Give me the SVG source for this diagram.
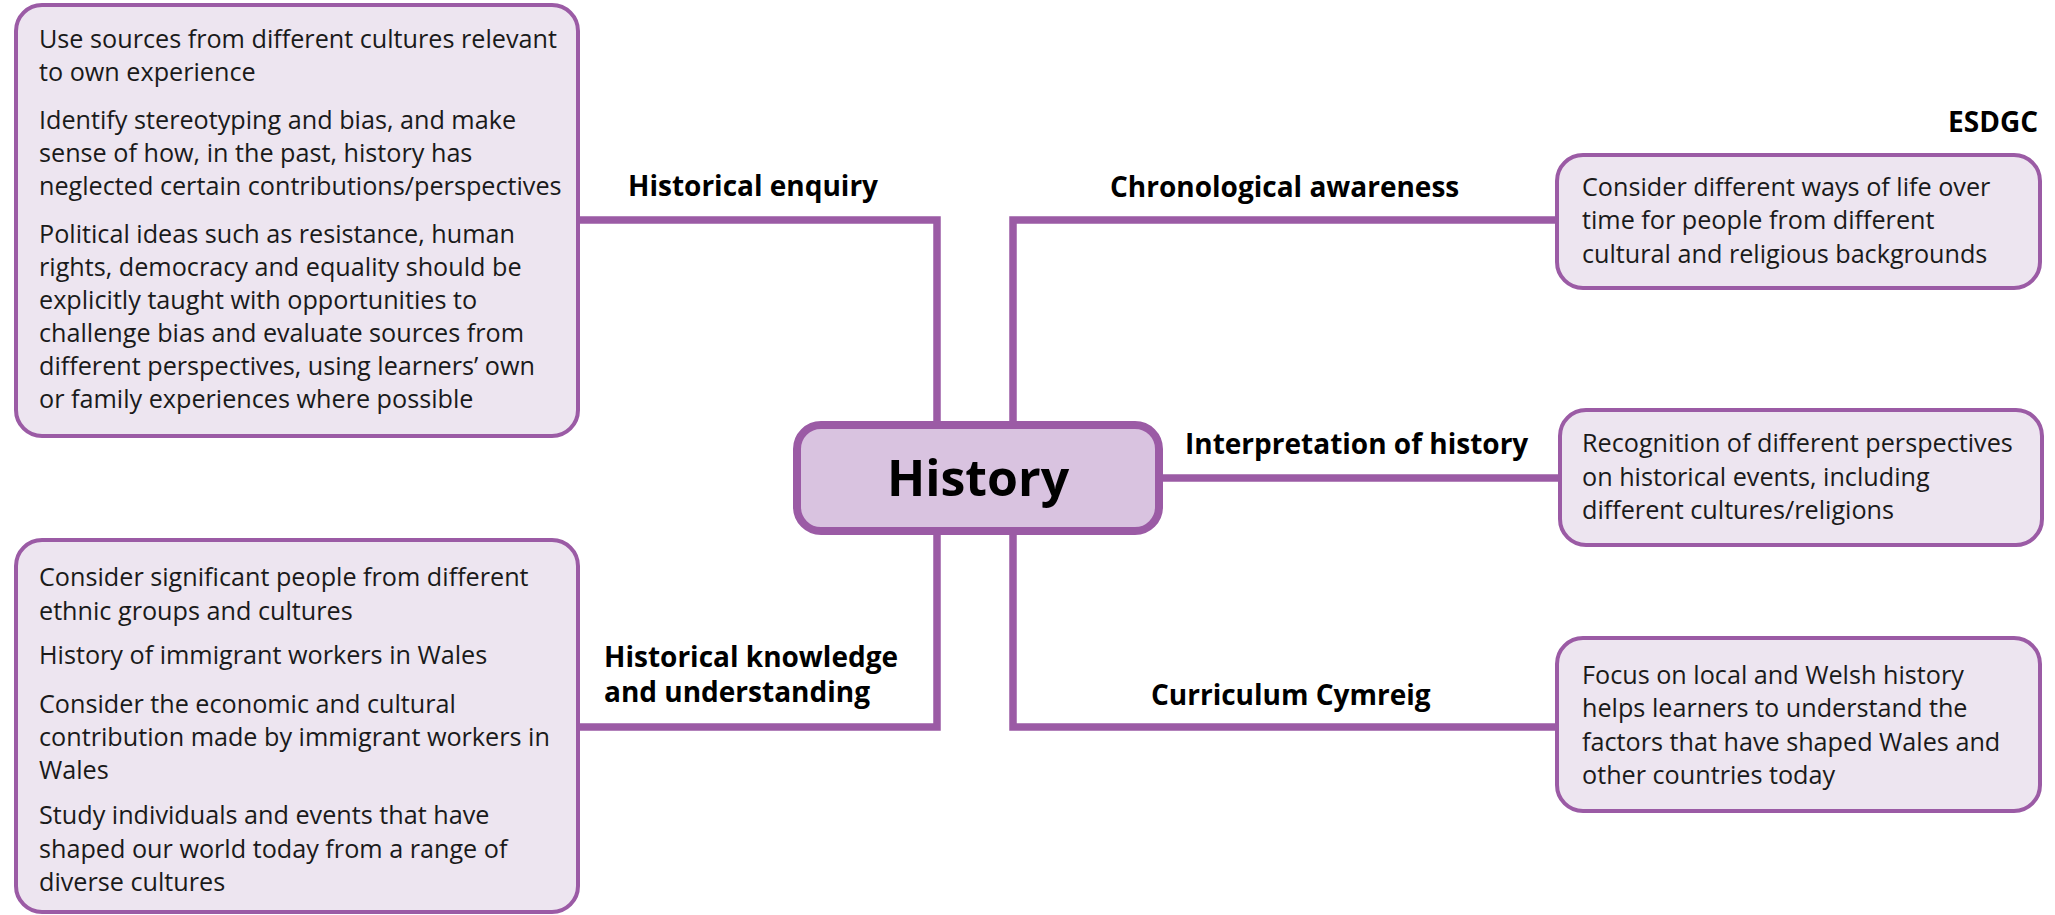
<svg xmlns="http://www.w3.org/2000/svg" width="2055" height="915" viewBox="0 0 2055 915">
  <style>
    .conn { fill: none; stroke: #9b5ba5; stroke-width: 7.5; stroke-linejoin: miter; }
    .box { fill: #ede5f0; stroke: #9b5ba5; stroke-width: 4; }
    .hub { fill: #d9c3e0; stroke: #9b5ba5; stroke-width: 8; }
    .body { font-family: "Open Sans", "Noto Sans", sans-serif; font-size: 25.2px; fill: #1a1a1a; }
    .head { font-family: "Open Sans", "Noto Sans", sans-serif; font-size: 28px; font-weight: bold; fill: #000; }
    .title { font-family: "Open Sans", "Noto Sans", sans-serif; font-size: 50px; font-weight: bold; fill: #000; }
  </style>

  <!-- connectors from the hub to each theme box -->
  <g id="connectors">
    <path class="conn" d="M 578 220 H 937 V 429"/>
    <path class="conn" d="M 1013 429 V 220 H 1557"/>
    <path class="conn" d="M 1159 478 H 1560"/>
    <path class="conn" d="M 937 527 V 727 H 578"/>
    <path class="conn" d="M 1013 527 V 727 H 1557"/>
  </g>

  <!-- branch labels -->
  <g id="labels">
    <text class="head" x="628" y="196">Historical enquiry</text>
    <text class="head" x="1110" y="197">Chronological awareness</text>
    <text class="head" x="2038" y="132" text-anchor="end">ESDGC</text>
    <text class="head" x="1185" y="454">Interpretation of history</text>
    <text class="head" x="604" y="667">Historical knowledge</text>
    <text class="head" x="604" y="702">and understanding</text>
    <text class="head" x="1151" y="705">Curriculum Cymreig</text>
  </g>

  <g id="hub">
    <rect class="hub" x="797" y="425" width="362" height="106" rx="24"/>
    <text class="title" x="978" y="496" text-anchor="middle">History</text>
  </g>

  <g id="enquiry-box">
    <rect class="box" x="16" y="5" width="562" height="431" rx="26"/>
    <text class="body" x="39" y="48">Use sources from different cultures relevant</text>
    <text class="body" x="39" y="81">to own experience</text>
    <text class="body" x="39" y="129">Identify stereotyping and bias, and make</text>
    <text class="body" x="39" y="162">sense of how, in the past, history has</text>
    <text class="body" x="39" y="195">neglected certain contributions/perspectives</text>
    <text class="body" x="39" y="243">Political ideas such as resistance, human</text>
    <text class="body" x="39" y="276">rights, democracy and equality should be</text>
    <text class="body" x="39" y="309">explicitly taught with opportunities to</text>
    <text class="body" x="39" y="342">challenge bias and evaluate sources from</text>
    <text class="body" x="39" y="375">different perspectives, using learners’ own</text>
    <text class="body" x="39" y="408">or family experiences where possible</text>
  </g>

  <g id="knowledge-box">
    <rect class="box" x="16" y="540" width="562" height="372" rx="26"/>
    <text class="body" x="39" y="586">Consider significant people from different</text>
    <text class="body" x="39" y="620">ethnic groups and cultures</text>
    <text class="body" x="39" y="664">History of immigrant workers in Wales</text>
    <text class="body" x="39" y="713">Consider the economic and cultural</text>
    <text class="body" x="39" y="746">contribution made by immigrant workers in</text>
    <text class="body" x="39" y="779">Wales</text>
    <text class="body" x="39" y="824">Study individuals and events that have</text>
    <text class="body" x="39" y="858">shaped our world today from a range of</text>
    <text class="body" x="39" y="891">diverse cultures</text>
  </g>

  <g id="chronology-box">
    <rect class="box" x="1557" y="155" width="483" height="133" rx="26"/>
    <text class="body" x="1582" y="196">Consider different ways of life over</text>
    <text class="body" x="1582" y="229">time for people from different</text>
    <text class="body" x="1582" y="263">cultural and religious backgrounds</text>
  </g>

  <g id="interpretation-box">
    <rect class="box" x="1560" y="410" width="482" height="135" rx="26"/>
    <text class="body" x="1582" y="452">Recognition of different perspectives</text>
    <text class="body" x="1582" y="486">on historical events, including</text>
    <text class="body" x="1582" y="519">different cultures/religions</text>
  </g>

  <g id="cymreig-box">
    <rect class="box" x="1557" y="638" width="483" height="173" rx="26"/>
    <text class="body" x="1582" y="684">Focus on local and Welsh history</text>
    <text class="body" x="1582" y="717">helps learners to understand the</text>
    <text class="body" x="1582" y="751">factors that have shaped Wales and</text>
    <text class="body" x="1582" y="784">other countries today</text>
  </g>
</svg>
